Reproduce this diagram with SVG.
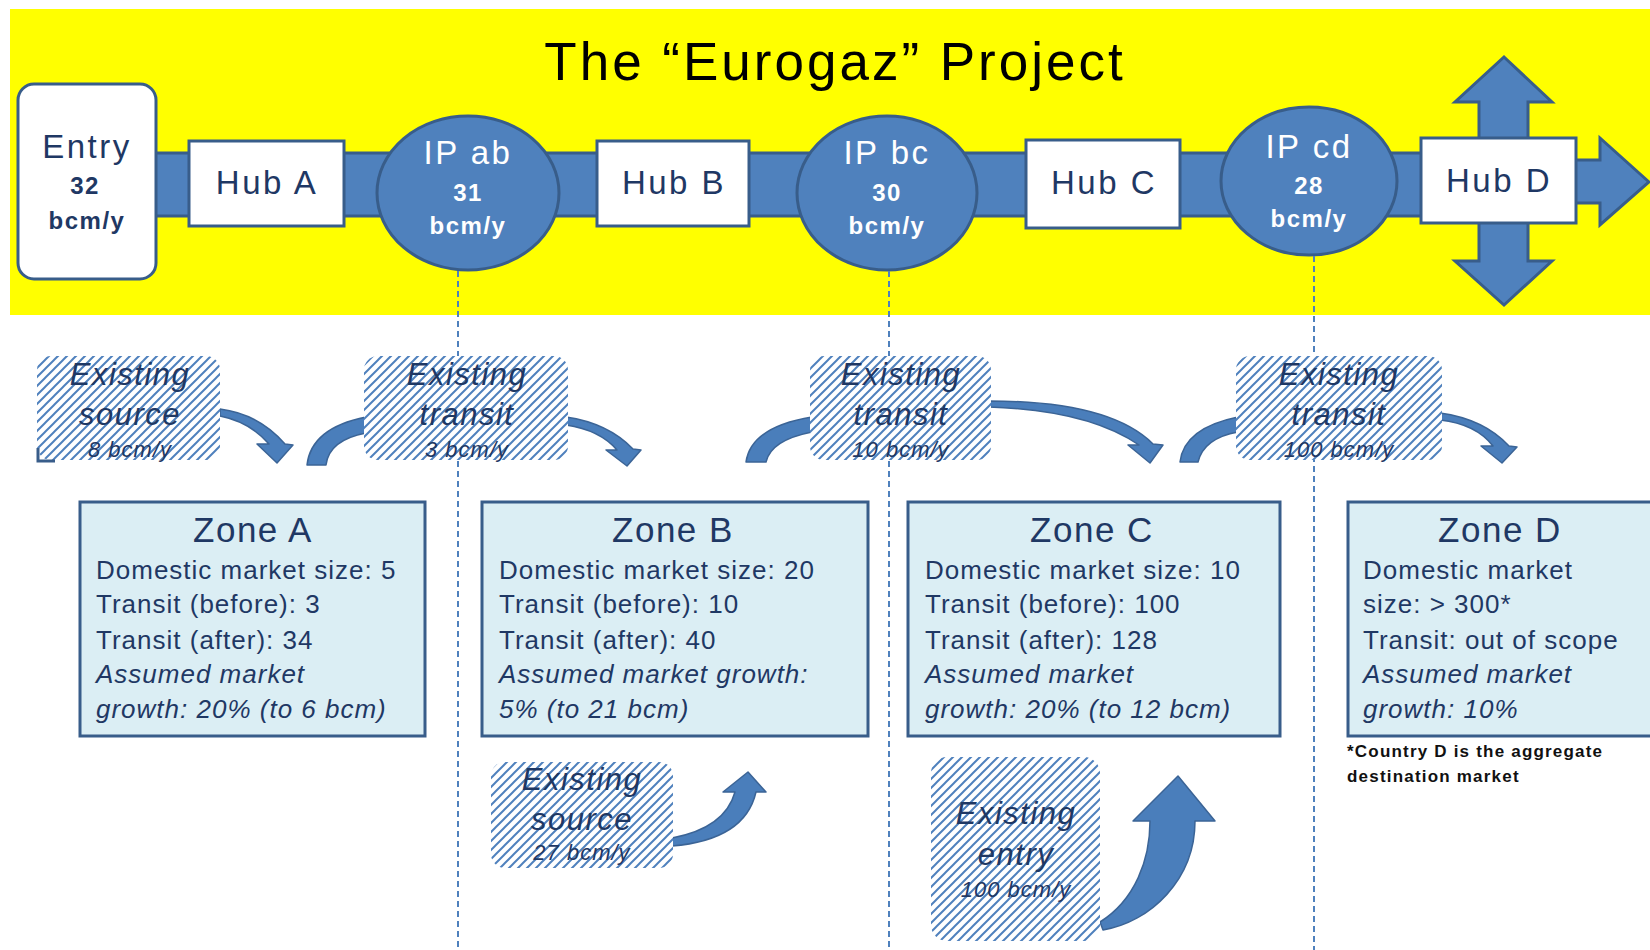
<svg xmlns="http://www.w3.org/2000/svg" width="1650" height="950" viewBox="0 0 1650 950">
<defs>
<pattern id="hatch" width="9" height="9" patternUnits="userSpaceOnUse">
<rect width="9" height="9" fill="#ffffff"/>
<path d="M-1,1 L1,-1 M0,9 L9,0 M8,10 L10,8" stroke="#4f81bd" stroke-width="2"/>
</pattern>
</defs>
<style>
text{font-family:"Liberation Sans",Arial,sans-serif}
.title{font-size:53px;letter-spacing:3px;fill:#000;text-anchor:middle}
.lbl{font-size:33px;letter-spacing:2.5px;fill:#1f3864;text-anchor:middle}
.w{fill:#ffffff}
.num{font-size:24px;font-weight:bold;letter-spacing:1.5px;text-anchor:middle}
.node{fill:#ffffff;stroke:#385d8a;stroke-width:3}
.blue{fill:#4f81bd;stroke:#385d8a;stroke-width:3}
.arr{fill:#4a7ebb;stroke:#3b6496;stroke-width:1.5;stroke-linejoin:round}
.dash{stroke:#4f81bd;stroke-width:2;stroke-dasharray:6 4;fill:none}
.zone{fill:#dbeef4;stroke:#385d8a;stroke-width:3}
.zt{font-size:35px;letter-spacing:1.5px;fill:#1f3864;text-anchor:middle}
.zl{font-size:26px;letter-spacing:1px;fill:#1f3864}
.zi{font-style:italic}
.hb{fill:url(#hatch)}
.ht{font-size:31px;font-style:italic;letter-spacing:1.5px;fill:#1f3864;text-anchor:middle}
.hs{font-size:22px;font-style:italic;letter-spacing:1px;fill:#1f3864;text-anchor:middle}
.fn{font-size:17px;font-weight:bold;letter-spacing:1.2px;fill:#111111}
</style>

<rect x="10" y="9" width="1640" height="306" fill="#ffff00"/>
<text class="title" x="835" y="80">The “Eurogaz” Project</text>

<g id="pipeline">
<rect class="blue" x="150" y="153" width="1275" height="63"/>
<polygon class="blue" points="1570,160 1600,160 1600,138 1649,182 1600,225 1600,203 1570,203"/>
<polygon class="blue" points="1504,57 1552,102 1528,102 1528,261 1552,261 1504,305 1455,261 1479,261 1479,102 1455,102"/>
</g>

<g id="entry">
<rect class="node" x="18" y="84" width="138" height="195" rx="16"/>
<text class="lbl" x="87" y="158">Entry</text>
<text class="num" x="85" y="194" fill="#1f3864">32</text>
<text class="num" x="87" y="229" fill="#1f3864">bcm/y</text>
</g>
<g id="hubA">
<rect class="node" x="189" y="141" width="155" height="85"/>
<text class="lbl" x="267" y="194">Hub A</text>
</g>
<g id="ipab">
<ellipse class="blue" cx="468" cy="193" rx="91" ry="77"/>
<text class="lbl w" x="468" y="164">IP ab</text>
<text class="num w" x="468" y="201">31</text>
<text class="num w" x="468" y="234">bcm/y</text>
</g>
<g id="hubB">
<rect class="node" x="597" y="141" width="152" height="85"/>
<text class="lbl" x="674" y="194">Hub B</text>
</g>
<g id="ipbc">
<ellipse class="blue" cx="887" cy="193" rx="90" ry="77"/>
<text class="lbl w" x="887" y="164">IP bc</text>
<text class="num w" x="887" y="201">30</text>
<text class="num w" x="887" y="234">bcm/y</text>
</g>
<g id="hubC">
<rect class="node" x="1026" y="140" width="154" height="88"/>
<text class="lbl" x="1104" y="194">Hub C</text>
</g>
<g id="ipcd">
<ellipse class="blue" cx="1309" cy="181" rx="88" ry="74"/>
<text class="lbl w" x="1309" y="158">IP cd</text>
<text class="num w" x="1309" y="194">28</text>
<text class="num w" x="1309" y="227">bcm/y</text>
</g>
<g id="hubD">
<rect class="node" x="1421" y="138" width="155" height="85"/>
<text class="lbl" x="1499" y="192">Hub D</text>
</g>

<g id="connectors">
<line class="dash" x1="458" y1="271" x2="458" y2="950"/>
<line class="dash" x1="889" y1="271" x2="889" y2="950"/>
<line class="dash" x1="1314" y1="256" x2="1314" y2="950"/>
<path class="arr" d="M220,409 Q259,414 285,444 L293,445 L277,463 L257,444 L269,444 Q250,422 220,416 Z"/>
<path class="arr" d="M307,465 Q311,428 366,417 L366,433 Q329,440 326,465 Z"/>
<path class="arr" d="M566,417 Q608,423 633,449 L641,450 L627,466 L606,450 L617,450 Q600,430 566,425 Z"/>
<path class="arr" d="M746,462 Q751,427 812,417 L812,432 Q771,440 766,462 Z"/>
<path class="arr" d="M989,401 Q1110,401 1153,444 L1163,445 L1150,463 L1128,445 L1139,445 Q1088,410 989,407 Z"/>
<path class="arr" d="M1180,462 Q1184,428 1238,417 L1238,432 Q1204,438 1198,462 Z"/>
<path class="arr" d="M1440,413 Q1484,419 1509,446 L1517,447 L1502,463 L1481,446 L1493,446 Q1476,424 1440,420 Z"/>
<path class="arr" d="M672,838 Q725,828 735,792 L723,792 L748,772 L766,792 L756,792 Q745,840 672,846 Z"/>
<path class="arr" d="M1100,922 C1135,900 1150,860 1150,821 L1133,821 L1178,776 L1215,821 L1195,821 C1195,880 1150,922 1103,930 Z"/>
</g>

<g id="src1">
<rect class="hb" x="37" y="356" width="183" height="104" rx="14"/>
<path d="M38,448 L38,461 L55,461" fill="none" stroke="#385d8a" stroke-width="3"/>
<text class="ht" x="130" y="385">Existing</text>
<text class="ht" x="130" y="425">source</text>
<text class="hs" x="130" y="457">8 bcm/y</text>
</g>
<g id="transit1">
<rect class="hb" x="364" y="356" width="204" height="104" rx="14"/>
<text class="ht" x="467" y="385">Existing</text>
<text class="ht" x="467" y="425">transit</text>
<text class="hs" x="467" y="457">3 bcm/y</text>
</g>
<g id="transit2">
<rect class="hb" x="810" y="356" width="181" height="104" rx="14"/>
<text class="ht" x="901" y="385">Existing</text>
<text class="ht" x="901" y="425">transit</text>
<text class="hs" x="901" y="457">10 bcm/y</text>
</g>
<g id="transit3">
<rect class="hb" x="1236" y="356" width="206" height="104" rx="14"/>
<text class="ht" x="1339" y="385">Existing</text>
<text class="ht" x="1339" y="425">transit</text>
<text class="hs" x="1339" y="457">100 bcm/y</text>
</g>
<g id="src2">
<rect class="hb" x="491" y="762" width="182" height="106" rx="14"/>
<text class="ht" x="582" y="790">Existing</text>
<text class="ht" x="582" y="830">source</text>
<text class="hs" x="582" y="860">27 bcm/y</text>
</g>
<g id="entry2">
<rect class="hb" x="931" y="757" width="169" height="184" rx="16"/>
<text class="ht" x="1016" y="824">Existing</text>
<text class="ht" x="1016" y="865">entry</text>
<text class="hs" x="1016" y="897">100 bcm/y</text>
</g>

<g id="zoneA">
<rect class="zone" x="80" y="502" width="345" height="234"/>
<text class="zt" x="253" y="542">Zone A</text>
<text class="zl" x="96" y="579">Domestic market size: 5</text>
<text class="zl" x="96" y="613">Transit (before): 3</text>
<text class="zl" x="96" y="649">Transit (after): 34</text>
<text class="zl zi" x="96" y="683">Assumed market</text>
<text class="zl zi" x="96" y="718">growth: 20% (to 6 bcm)</text>
</g>
<g id="zoneB">
<rect class="zone" x="482" y="502" width="386" height="234"/>
<text class="zt" x="673" y="542">Zone B</text>
<text class="zl" x="499" y="579">Domestic market size: 20</text>
<text class="zl" x="499" y="613">Transit (before): 10</text>
<text class="zl" x="499" y="649">Transit (after): 40</text>
<text class="zl zi" x="499" y="683">Assumed market growth:</text>
<text class="zl zi" x="499" y="718">5% (to 21 bcm)</text>
</g>
<g id="zoneC">
<rect class="zone" x="908" y="502" width="372" height="234"/>
<text class="zt" x="1092" y="542">Zone C</text>
<text class="zl" x="925" y="579">Domestic market size: 10</text>
<text class="zl" x="925" y="613">Transit (before): 100</text>
<text class="zl" x="925" y="649">Transit (after): 128</text>
<text class="zl zi" x="925" y="683">Assumed market</text>
<text class="zl zi" x="925" y="718">growth: 20% (to 12 bcm)</text>
</g>
<g id="zoneD">
<rect class="zone" x="1348" y="502" width="310" height="234"/>
<text class="zt" x="1500" y="542">Zone D</text>
<text class="zl" x="1363" y="579">Domestic market</text>
<text class="zl" x="1363" y="613">size: &gt; 300*</text>
<text class="zl" x="1363" y="649">Transit: out of scope</text>
<text class="zl zi" x="1363" y="683">Assumed market</text>
<text class="zl zi" x="1363" y="718">growth: 10%</text>
<text class="fn" x="1347" y="757">*Country D is the aggregate</text>
<text class="fn" x="1347" y="782">destination market</text>
</g>
</svg>
